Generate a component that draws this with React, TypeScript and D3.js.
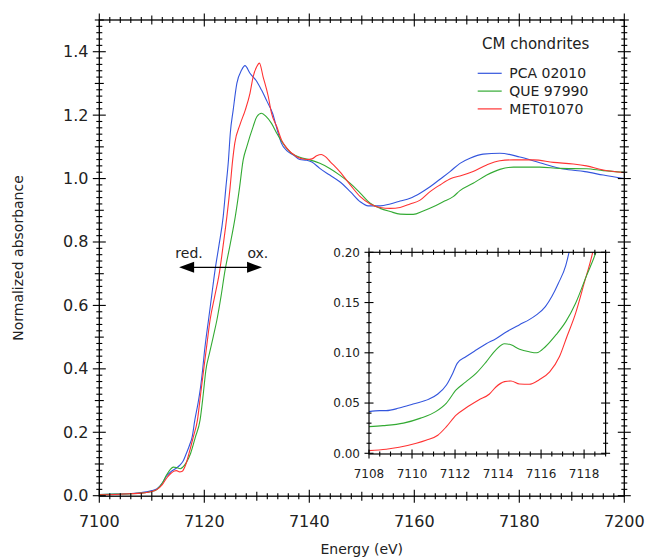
import React from "react";
import * as d3 from "d3";

// ---------- data ----------
const seriesNames = ["PCA 02010", "QUE 97990", "MET01070"];
const seriesColors = ["#3355dd", "#33aa33", "#ff3333"];

// main spectra: [energy eV, normalized absorbance]
const pcaMain: [number, number][] = [
  [7100, 0.004], [7103, 0.005], [7106, 0.007], [7108, 0.01], [7110, 0.016], [7111, 0.022],
  [7112, 0.04], [7112.8, 0.062], [7113.6, 0.075], [7114.5, 0.085], [7115.4, 0.097], [7116, 0.11],
  [7116.6, 0.134], [7117.2, 0.16], [7117.7, 0.186], [7118.2, 0.239], [7118.8, 0.291], [7119.3, 0.344],
  [7119.7, 0.4], [7120.0, 0.45], [7120.4, 0.505], [7120.8, 0.554], [7121.4, 0.63], [7122.0, 0.706],
  [7122.8, 0.79], [7123.6, 0.88], [7124.1, 0.97], [7124.6, 1.058], [7124.95, 1.143], [7125.5, 1.216],
  [7126.2, 1.3], [7127.1, 1.342], [7127.75, 1.356], [7128.7, 1.332], [7130.0, 1.306], [7130.9, 1.279],
  [7131.9, 1.245], [7133.0, 1.206], [7133.9, 1.153], [7134.7, 1.111], [7135.7, 1.088], [7137.0, 1.074],
  [7138.2, 1.06], [7139.5, 1.058], [7140.5, 1.052], [7142.0, 1.032], [7143.9, 1.011], [7145.8, 0.99],
  [7147.8, 0.959], [7149.7, 0.927], [7151.2, 0.914], [7153.5, 0.914], [7155.4, 0.92], [7157.3, 0.929],
  [7159.2, 0.938], [7161.1, 0.954], [7163.0, 0.974], [7164.9, 0.998], [7166.8, 1.022], [7168.7, 1.048],
  [7170.6, 1.064], [7173.1, 1.077], [7176.3, 1.08], [7180.1, 1.068], [7183.9, 1.05], [7188.4, 1.03],
  [7192.5, 1.022], [7196.0, 1.011], [7200, 1.0],
];
const queMain: [number, number][] = [
  [7100, 0.004], [7103, 0.005], [7106, 0.006], [7108, 0.008], [7110, 0.013], [7111, 0.02],
  [7112, 0.04], [7112.8, 0.065], [7113.5, 0.082], [7114.1, 0.09], [7114.7, 0.089], [7115.4, 0.085],
  [7115.9, 0.09], [7116.6, 0.105], [7117.4, 0.134], [7118.3, 0.185], [7119.2, 0.239], [7119.8, 0.32],
  [7120.3, 0.396], [7121.0, 0.45], [7121.7, 0.501], [7122.4, 0.554], [7123.2, 0.63], [7123.9, 0.706],
  [7124.9, 0.79], [7125.9, 0.88], [7126.7, 0.97], [7127.4, 1.058], [7128.1, 1.101], [7129.3, 1.164],
  [7130.0, 1.195], [7130.9, 1.206], [7131.8, 1.195], [7132.8, 1.174], [7133.8, 1.143], [7135.0, 1.111],
  [7136.6, 1.08], [7138.2, 1.067], [7140.1, 1.059], [7142.0, 1.048], [7143.9, 1.032], [7145.8, 1.011],
  [7147.8, 0.985], [7149.7, 0.954], [7151.6, 0.922], [7153.5, 0.906], [7155.4, 0.896], [7157.3, 0.888],
  [7159.8, 0.887], [7161.7, 0.898], [7163.6, 0.911], [7165.5, 0.927], [7167.4, 0.943], [7168.7, 0.962],
  [7171.2, 0.985], [7173.8, 1.011], [7176.3, 1.029], [7178.9, 1.036], [7183.9, 1.036], [7187.7, 1.032],
  [7192.8, 1.031], [7196.0, 1.025], [7200, 1.02],
];
const metMain: [number, number][] = [
  [7100, 0.003], [7103, 0.004], [7106, 0.006], [7108, 0.008], [7110, 0.013], [7111, 0.02],
  [7112, 0.035], [7112.8, 0.055], [7113.6, 0.07], [7114.3, 0.078], [7114.7, 0.079], [7115.3, 0.075],
  [7115.8, 0.077], [7116.4, 0.095], [7117.1, 0.134], [7117.9, 0.185], [7118.7, 0.239], [7119.3, 0.32],
  [7119.9, 0.4], [7120.5, 0.478], [7121.1, 0.554], [7122.0, 0.63], [7122.9, 0.706], [7123.6, 0.79],
  [7124.3, 0.88], [7124.9, 0.97], [7125.4, 1.058], [7125.8, 1.111], [7126.8, 1.17], [7127.8, 1.216],
  [7128.7, 1.269], [7129.3, 1.321], [7130.0, 1.353], [7130.5, 1.364], [7131.2, 1.321], [7132.2, 1.258],
  [7132.8, 1.206], [7133.8, 1.164], [7134.7, 1.122], [7135.7, 1.096], [7137.6, 1.069], [7139.5, 1.06],
  [7140.5, 1.062], [7141.4, 1.072], [7142.3, 1.076], [7143.0, 1.07], [7144.0, 1.053], [7145.8, 1.022],
  [7147.8, 0.98], [7149.7, 0.943], [7151.6, 0.92], [7153.5, 0.909], [7155.4, 0.906], [7157.3, 0.909],
  [7159.2, 0.92], [7161.1, 0.932], [7163.0, 0.959], [7164.9, 0.98], [7167.1, 1.001], [7168.7, 1.008],
  [7171.2, 1.022], [7173.8, 1.043], [7176.3, 1.056], [7178.9, 1.059], [7182.7, 1.059], [7186.5, 1.051],
  [7190.3, 1.046], [7192.8, 1.04], [7196.0, 1.027], [7200, 1.019],
];

// inset (pre-edge) spectra
const pcaInset: [number, number][] = [
  [7108, 0.0415], [7108.5, 0.0425], [7108.8, 0.0425], [7109.4, 0.045], [7110.05, 0.049], [7110.8, 0.054],
  [7111.2, 0.059], [7111.6, 0.068], [7111.9, 0.08], [7112.1, 0.0895], [7112.5, 0.096], [7113.0, 0.103],
  [7113.45, 0.109], [7113.9, 0.114], [7114.4, 0.121], [7115.0, 0.128], [7115.45, 0.133], [7115.8, 0.138],
  [7116.2, 0.146], [7116.5, 0.156], [7116.8, 0.169], [7117.15, 0.187], [7117.3, 0.2], [7117.4, 0.21],
];
const queInset: [number, number][] = [
  [7108, 0.0265], [7108.65, 0.0275], [7109.6, 0.03], [7110.4, 0.035], [7111.1, 0.0415], [7111.6, 0.05],
  [7112.05, 0.063], [7112.5, 0.071], [7113.0, 0.08], [7113.45, 0.091], [7113.9, 0.103], [7114.3, 0.109],
  [7114.6, 0.108], [7115.0, 0.1035], [7115.45, 0.101], [7115.8, 0.1], [7116.2, 0.106], [7116.7, 0.118],
  [7117.15, 0.131], [7117.6, 0.149], [7118.1, 0.176], [7118.55, 0.2], [7118.7, 0.21],
];
const metInset: [number, number][] = [
  [7108, 0.0027], [7108.8, 0.004], [7109.4, 0.006], [7110.2, 0.01], [7110.65, 0.013], [7111.2, 0.018],
  [7111.6, 0.0265], [7112.05, 0.038], [7112.5, 0.045], [7113.1, 0.053], [7113.6, 0.059], [7113.9, 0.066],
  [7114.3, 0.0713], [7114.6, 0.072], [7115.0, 0.069], [7115.45, 0.0687], [7115.9, 0.073], [7116.4, 0.081],
  [7116.85, 0.096], [7117.2, 0.116], [7117.6, 0.139], [7118.0, 0.169], [7118.4, 0.2], [7118.5, 0.21],
];

const mainSeries = [pcaMain, queMain, metMain];
const insetSeries = [pcaInset, queInset, metInset];

const xMainTicks = [7100, 7120, 7140, 7160, 7180, 7200];
const yMainTicks = [0, 0.2, 0.4, 0.6, 0.8, 1.0, 1.2, 1.4];
const xInsetTicks = [7108, 7110, 7112, 7114, 7116, 7118];
const yInsetTicks = [0, 0.05, 0.1, 0.15, 0.2];

const legendTitle = "CM chondrites";
const xTitle = "Energy (eV)";
const yTitle = "Normalized absorbance";

// ---------- chart ----------
const FONT = "'DejaVu Sans', Verdana, sans-serif";

export default function App() {
  const x = d3.scaleLinear().domain([7100, 7200]).range([99.3, 624.3]);
  const y = d3.scaleLinear().domain([0, 1.5]).range([495.7, 20]);
  const xi = d3.scaleLinear().domain([7108, 7119]).range([369, 605.6]);
  const yi = d3.scaleLinear().domain([0, 0.2]).range([453.3, 252.3]);

  const line = d3.line<[number, number]>().x((d) => x(d[0])).y((d) => y(d[1])).curve(d3.curveMonotoneX);
  const lineI = d3.line<[number, number]>().x((d) => xi(d[0])).y((d) => yi(d[1])).curve(d3.curveMonotoneX);

  const [x0, x1] = x.range();
  const yb = 496.2, yt = 20;
  const [ix0, ix1] = xi.range();
  const iyb = 454, iyt = 252.3;

  const ticks: JSX.Element[] = [];
  // main x ticks (top & bottom)
  d3.range(7100, 7200.01, 2).forEach((v, i) => {
    const px = x(v);
    const r = Math.round(v - 7100);
    const len = r % 20 === 0 ? 6.5 : r % 10 === 0 ? 4.5 : 3;
    ticks.push(<line key={"xb" + i} x1={px} x2={px} y1={yb - len} y2={yb + len} />);
    ticks.push(<line key={"xt" + i} x1={px} x2={px} y1={yt - len} y2={yt + len} />);
  });
  // main y ticks (left & right)
  d3.range(0, 75.01, 1).forEach((k) => {
    const v = k * 0.02;
    const py = y(v);
    const len = k % 10 === 0 ? 6.5 : k % 5 === 0 ? 4.5 : 3;
    ticks.push(<line key={"yl" + k} x1={x0 - len} x2={x0 + len} y1={py} y2={py} />);
    ticks.push(<line key={"yr" + k} x1={x1 - len} x2={x1 + len} y1={py} y2={py} />);
  });
  // inset ticks
  d3.range(0, 22.01, 1).forEach((k) => {
    const v = 7108 + k * 0.5;
    const px = xi(v);
    const len = k % 4 === 0 ? 4.5 : 2.5;
    ticks.push(<line key={"ixb" + k} x1={px} x2={px} y1={iyb - len} y2={iyb + len} />);
    ticks.push(<line key={"ixt" + k} x1={px} x2={px} y1={iyt - len} y2={iyt + len} />);
  });
  d3.range(0, 20.01, 1).forEach((k) => {
    const v = k * 0.01;
    const py = yi(v);
    const len = k % 5 === 0 ? 4.5 : 2.5;
    ticks.push(<line key={"iyl" + k} x1={ix0 - len} x2={ix0 + len} y1={py} y2={py} />);
    ticks.push(<line key={"iyr" + k} x1={ix1 - len} x2={ix1 + len} y1={py} y2={py} />);
  });

  // arrow annotation
  const ay = y(0.72);
  const ax0 = x(7115.2), ax1 = x(7131);
  const ah = 15, aw = 5.5;

  return (
    <svg width={647} height={560} style={{ position: "absolute", left: 0, top: 0, display: "block", background: "#fff" }}
      fontFamily={FONT}>
      <defs>
        <clipPath id="mainClip"><rect x={x0} y={yt} width={x1 - x0} height={yb - yt} /></clipPath>
        <clipPath id="insetClip"><rect x={ix0} y={iyt} width={ix1 - ix0} height={iyb - iyt} /></clipPath>
      </defs>

      {/* main curves */}
      <g clipPath="url(#mainClip)" fill="none" strokeWidth={1.1} strokeLinejoin="round">
        {mainSeries.map((s, i) => (
          <path key={i} d={line(s) || ""} stroke={seriesColors[i]} />
        ))}
      </g>

      {/* frame */}
      <rect x={x0} y={yt} width={x1 - x0} height={yb - yt} fill="none" stroke="#000" strokeWidth={1.3} />

      {/* inset */}
      <rect x={ix0} y={iyt} width={ix1 - ix0} height={iyb - iyt} fill="#fff" stroke="none" />
      <g clipPath="url(#insetClip)" fill="none" strokeWidth={1.1} strokeLinejoin="round">
        {[0, 2, 1].map((i) => (
          <path key={i} d={lineI(insetSeries[i]) || ""} stroke={seriesColors[i]} />
        ))}
      </g>
      <rect x={ix0} y={iyt} width={ix1 - ix0} height={iyb - iyt} fill="none" stroke="#000" strokeWidth={1.2} />

      <g stroke="#000" strokeWidth={1.1}>{ticks}</g>

      {/* main tick labels */}
      <g fontSize={16} fill="#222">
        {xMainTicks.map((v) => (
          <text key={v} x={x(v)} y={527} textAnchor="middle">{v}</text>
        ))}
        {yMainTicks.map((v) => (
          <text key={v} x={88.5} y={y(v) + 5.5} textAnchor="end">{v.toFixed(1)}</text>
        ))}
      </g>

      {/* inset tick labels */}
      <g fontSize={12} fill="#222">
        {xInsetTicks.map((v) => (
          <text key={v} x={xi(v)} y={478} textAnchor="middle">{v}</text>
        ))}
        {yInsetTicks.map((v) => (
          <text key={v} x={360} y={yi(v) + 4.2} textAnchor="end">{v.toFixed(2)}</text>
        ))}
      </g>

      {/* axis titles */}
      <text x={(x0 + x1) / 2} y={554} textAnchor="middle" fontSize={14} fill="#222">{xTitle}</text>
      <text transform={`translate(23,258) rotate(-90)`} textAnchor="middle" fontSize={14} fill="#222">{yTitle}</text>

      {/* legend */}
      <text x={482} y={48.5} fontSize={15} fill="#222">{legendTitle}</text>
      {seriesNames.map((n, i) => (
        <g key={n}>
          <line x1={477.7} x2={501.7} y1={73.3 + i * 17.8} y2={73.3 + i * 17.8} stroke={seriesColors[i]} strokeWidth={1.2} />
          <text x={509.3} y={73.3 + i * 17.8 + 5} fontSize={14} fill="#222">{n}</text>
        </g>
      ))}

      {/* red./ox. arrow */}
      <line x1={ax0 + ah - 1} x2={ax1 - ah + 1} y1={ay} y2={ay} stroke="#000" strokeWidth={1.3} />
      <path d={`M${ax0},${ay} L${ax0 + ah},${ay - aw} L${ax0 + ah},${ay + aw} Z`} fill="#000" />
      <path d={`M${ax1},${ay} L${ax1 - ah},${ay - aw} L${ax1 - ah},${ay + aw} Z`} fill="#000" />
      <text x={x(7117.1)} y={258} textAnchor="middle" fontSize={14} fill="#222">red.</text>
      <text x={x(7130.2)} y={258} textAnchor="middle" fontSize={14} fill="#222">ox.</text>
    </svg>
  );
}
